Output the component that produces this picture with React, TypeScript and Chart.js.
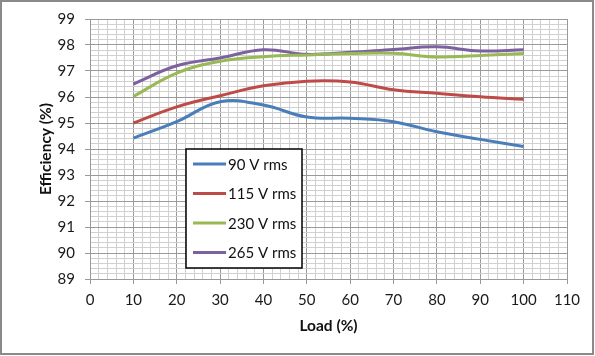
import React, { useEffect, useRef } from "react";
import { Chart, registerables } from "chart.js";

Chart.register(...registerables);

const loads = [10, 20, 30, 40, 50, 60, 70, 80, 90, 100];
const eff90 = [94.42, 95.05, 95.82, 95.69, 95.23, 95.18, 95.05, 94.66, 94.37, 94.1];
const eff115 = [95.0, 95.62, 96.05, 96.43, 96.61, 96.58, 96.28, 96.14, 96.01, 95.91];
const eff230 = [96.02, 96.92, 97.37, 97.55, 97.62, 97.67, 97.68, 97.54, 97.6, 97.67];
const eff265 = [96.5, 97.2, 97.5, 97.82, 97.64, 97.72, 97.83, 97.93, 97.77, 97.82];
const seriesLabels = ["90 V rms", "115 V rms", "230 V rms", "265 V rms"];
const seriesColors = ["#4A7EBB", "#BE4B48", "#98B954", "#7D60A0"];
const xTitle = "Load (%)";
const yTitle = "Efficiency (%)";

const FONT = "Lato, 'Open Sans', sans-serif";

const isMajor = (v: number, step: number) => {
  const q = v / step;
  return Math.abs(q - Math.round(q)) < 1e-6;
};

const framePlugin = {
  id: "frame",
  beforeDraw(chart: any) {
    const ctx = chart.ctx;
    ctx.save();
    ctx.fillStyle = "#ffffff";
    ctx.fillRect(0, 0, chart.width, chart.height);
    ctx.restore();
  },
  afterDraw(chart: any) {
    const ctx = chart.ctx;
    ctx.save();
    ctx.strokeStyle = "#8a8a8a";
    ctx.lineWidth = 2;
    ctx.strokeRect(1, 1, chart.width - 3, chart.height - 3);
    ctx.restore();
  },
};

const legendBoxPlugin = {
  id: "legendBox",
  afterDatasetsDraw(chart: any) {
    const ctx = chart.ctx;
    const x = 186, y = 149, w = 116, h = 119;
    ctx.save();
    ctx.fillStyle = "#ffffff";
    ctx.fillRect(x, y, w, h);
    ctx.strokeStyle = "#000000";
    ctx.lineWidth = 1.5;
    ctx.strokeRect(x, y, w, h);
    ctx.font = `15px ${FONT}`;
    ctx.textBaseline = "middle";
    ctx.textAlign = "left";
    chart.data.datasets.forEach((ds: any, i: number) => {
      const cy = 164 + i * 29.5;
      ctx.strokeStyle = ds.borderColor;
      ctx.lineWidth = 3;
      ctx.beginPath();
      ctx.moveTo(193, cy);
      ctx.lineTo(226, cy);
      ctx.stroke();
      ctx.fillStyle = "#111111";
      ctx.fillText(ds.label, 228, cy + 1);
    });
    ctx.restore();
  },
};

export default function App() {
  const ref = useRef<HTMLCanvasElement | null>(null);

  useEffect(() => {
    if (!ref.current) return;
    const mk = (vals: number[]) => loads.map((l, i) => ({ x: l, y: vals[i] }));
    const all = [eff90, eff115, eff230, eff265];
    const chart = new Chart(ref.current, {
      type: "line",
      data: {
        datasets: all.map((vals, i) => ({
          label: seriesLabels[i],
          data: mk(vals),
          borderColor: seriesColors[i],
          backgroundColor: seriesColors[i],
          borderWidth: 3,
          pointRadius: 0,
          tension: 0.4,
          fill: false,
        })),
      },
      options: {
        animation: false,
        responsive: false,
        maintainAspectRatio: false,
        devicePixelRatio: 1,
        layout: { padding: { top: 19, right: 28, left: 0, bottom: 0 } },
        plugins: {
          legend: { display: false },
          tooltip: { enabled: false },
        },
        scales: {
          x: {
            type: "linear",
            min: 0,
            max: 110,
            afterFit: (s: any) => {
              s.height = 77;
            },
            ticks: {
              stepSize: 2,
              autoSkip: false,
              maxRotation: 0,
              padding: 7,
              color: "#1a1a1a",
              font: { family: FONT, size: 15 },
              callback: (v: any) => (isMajor(Number(v), 10) ? String(Math.round(Number(v))) : ""),
            },
            grid: {
              color: (c: any) => (isMajor(c.tick.value, 10) ? "#9a9a9a" : "#d0d0d0"),
              tickColor: (c: any) => (isMajor(c.tick.value, 10) ? "#9a9a9a" : "rgba(0,0,0,0)"),
              tickLength: 5,
              lineWidth: 1,
            },
            border: { color: "#9a9a9a" },
            title: {
              display: true,
              text: xTitle,
              color: "#111111",
              font: { family: FONT, size: 15.5, weight: "bold" },
              padding: { top: 0, bottom: 21 },
            },
          },
          y: {
            type: "linear",
            min: 89,
            max: 99,
            afterFit: (s: any) => {
              s.width = 90;
            },
            ticks: {
              stepSize: 0.2,
              autoSkip: false,
              padding: 10,
              color: "#1a1a1a",
              font: { family: FONT, size: 15 },
              callback: (v: any) => (isMajor(Number(v), 1) ? String(Math.round(Number(v))) : ""),
            },
            grid: {
              color: (c: any) => (isMajor(c.tick.value, 1) ? "#9a9a9a" : "#d0d0d0"),
              tickColor: (c: any) => (isMajor(c.tick.value, 1) ? "#9a9a9a" : "rgba(0,0,0,0)"),
              tickLength: 5,
              lineWidth: 1,
            },
            border: { color: "#9a9a9a" },
            title: {
              display: true,
              text: yTitle,
              color: "#111111",
              font: { family: FONT, size: 15.5, weight: "bold" },
              padding: { top: 37, bottom: 0 },
            },
          },
        },
      },
      plugins: [framePlugin, legendBoxPlugin],
    } as any);
    return () => chart.destroy();
  }, []);

  return (
    <div style={{ position: "fixed", left: 0, top: 0, width: 595, height: 356 }}>
      <canvas ref={ref} width={595} height={356} style={{ display: "block", width: 595, height: 356 }} />
    </div>
  );
}
